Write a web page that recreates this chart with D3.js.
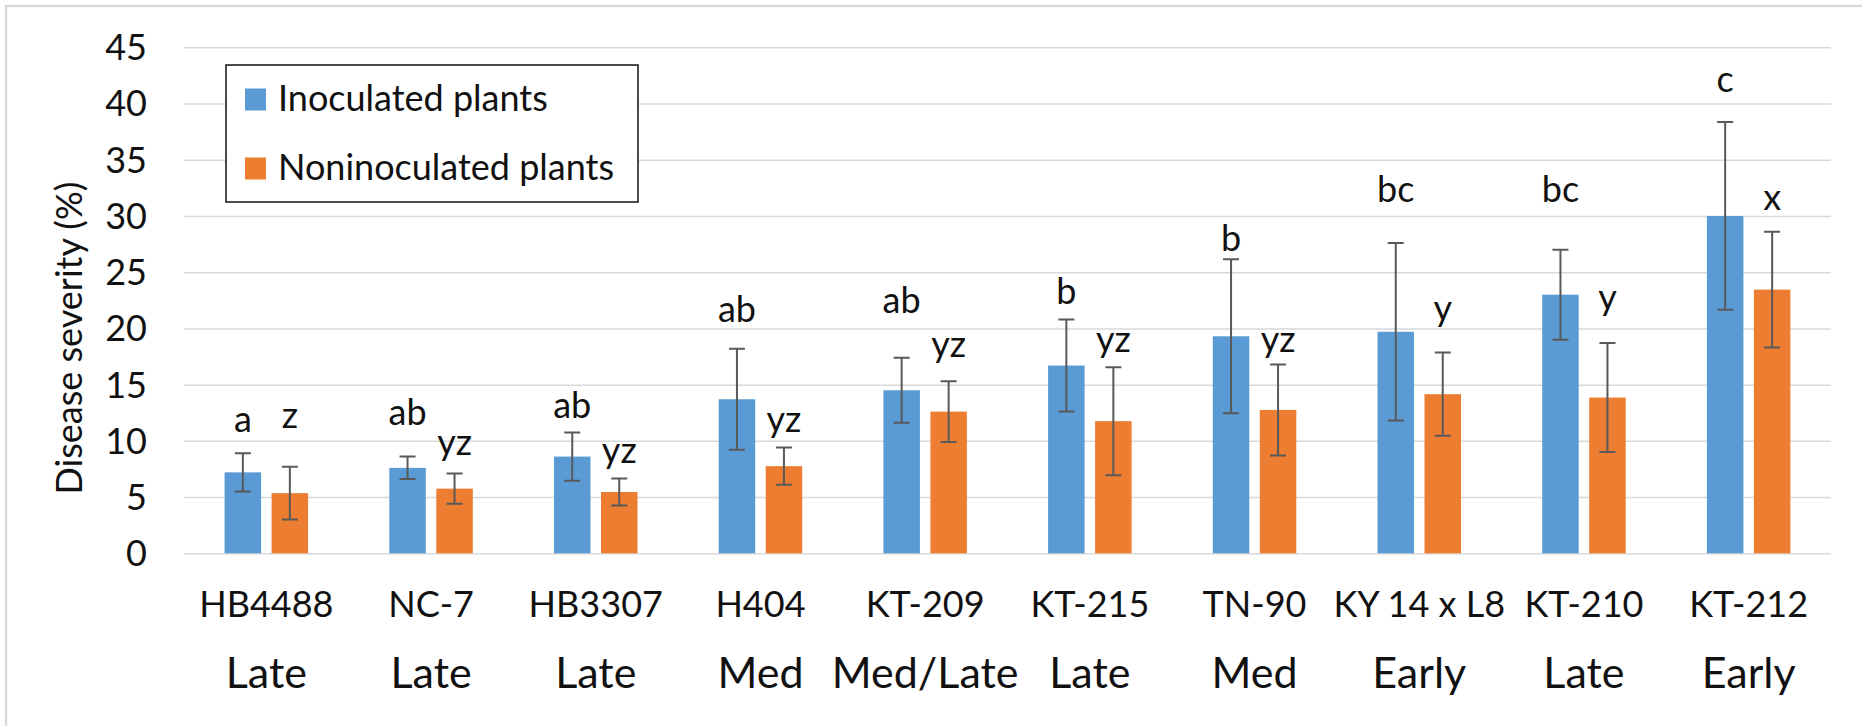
<!DOCTYPE html>
<html>
<head>
<meta charset="utf-8">
<script src="https://cdn.jsdelivr.net/npm/d3@7"></script>
<style>
	body { margin: 0; background: #fff; }
	svg text { font-family: Lato, "Open Sans", sans-serif; fill: #111; }
	.grid line { stroke: #d9d9d9; stroke-width: 1.5; }
	.grid .domain { display: none; }
</style>
</head>
<body>
<script>

const cultivars = ['HB4488', 'NC-7', 'HB3307', 'H404', 'KT-209', 'KT-215', 'TN-90', 'KY 14 x L8', 'KT-210', 'KT-212'];
const maturity = ['Late', 'Late', 'Late', 'Med', 'Med/Late', 'Late', 'Med', 'Early', 'Late', 'Early'];
const seriesNames = ['Inoculated plants', 'Noninoculated plants'];

const inoculated = [7.2, 7.6, 8.6, 13.7, 14.5, 16.7, 19.3, 19.7, 23.0, 30.0];
const inoculatedErr = [1.7, 1.0, 2.15, 4.5, 2.9, 4.1, 6.85, 7.9, 4.0, 8.35];
const noninoculated = [5.35, 5.75, 5.45, 7.75, 12.6, 11.75, 12.75, 14.15, 13.85, 23.45];
const noninoculatedErr = [2.35, 1.35, 1.2, 1.65, 2.7, 4.8, 4.05, 3.7, 4.85, 5.15];

// mean separation letters and the height (in %) they sit at
const inoculatedLetters = ['a', 'ab', 'ab', 'ab', 'ab', 'b', 'b', 'bc', 'bc', 'c'];
const inoculatedLetterAt = [10.8, 11.4, 12.0, 20.6, 21.4, 22.2, 26.9, 31.2, 31.2, 41.0];
const noninoculatedLetters = ['z', 'yz', 'yz', 'yz', 'yz', 'yz', 'yz', 'y', 'y', 'x'];
const noninoculatedLetterAt = [11.1, 8.7, 8.0, 10.8, 17.5, 17.9, 17.9, 20.7, 21.6, 30.5];

const yTicks = [0, 5, 10, 15, 20, 25, 30, 35, 40, 45];
const colors = ['#5b9bd5', '#ed7d31'];

const width = 1862;
const height = 726;
const plot = { left: 184, right: 1831, top: 47.3, bottom: 553.3 };

const svg = d3.select('body').append('svg')
	.attr('width', width)
	.attr('height', height);

// outer frame (only top and left edge are inside the picture)
svg.append('path')
	.attr('d', 'M6 726 V6 H1862')
	.attr('fill', 'none')
	.attr('stroke', '#d9d9d9')
	.attr('stroke-width', 2.5);

const x0 = d3.scaleBand()
	.domain(cultivars)
	.range([plot.left, plot.right]);

const x1 = d3.scaleBand()
	.domain([0, 1])
	.range([-41.75, 41.75])
	.paddingInner(0.2234);

const y = d3.scaleLinear()
	.domain([0, 45])
	.range([plot.bottom, plot.top]);

// gridlines
svg.append('g')
	.attr('class', 'grid')
	.attr('transform', 'translate(' + plot.left + ' 0)')
	.call(d3.axisRight(y).tickValues(yTicks).tickSize(plot.right - plot.left).tickFormat(''));

// tick labels
svg.append('g').selectAll('text')
	.data(yTicks)
	.enter().append('text')
	.attr('x', 147)
	.attr('y', d => y(d))
	.attr('dy', '0.36em')
	.attr('text-anchor', 'end')
	.style('font-size', '36px')
	.text(d => d);

svg.append('text')
	.attr('transform', 'translate(81.7 338) rotate(-90)')
	.attr('text-anchor', 'middle')
	.style('font-size', '36px')
	.text('Disease severity (%)');

const rows = cultivars.map((c, i) => ({
	name: c,
	values: [
		{ s: 0, v: inoculated[i], e: inoculatedErr[i], letter: inoculatedLetters[i], at: inoculatedLetterAt[i] },
		{ s: 1, v: noninoculated[i], e: noninoculatedErr[i], letter: noninoculatedLetters[i], at: noninoculatedLetterAt[i] }
	]
}));

const grp = svg.append('g').selectAll('g')
	.data(rows)
	.enter().append('g')
	.attr('transform', d => 'translate(' + (x0(d.name) + x0.bandwidth() / 2) + ' 0)');

const item = grp.selectAll('g')
	.data(d => d.values)
	.enter().append('g')
	.attr('transform', d => 'translate(' + (x1(d.s) + x1.bandwidth() / 2) + ' 0)');

item.append('rect')
	.attr('x', -x1.bandwidth() / 2)
	.attr('y', d => y(d.v))
	.attr('width', x1.bandwidth())
	.attr('height', d => y(0) - y(d.v))
	.attr('fill', d => colors[d.s]);

// error bars
item.append('path')
	.attr('d', d => {
		const t = y(d.v + d.e), b = y(d.v - d.e);
		return 'M-8 ' + t + 'H8M0 ' + t + 'V' + b + 'M-8 ' + b + 'H8';
	})
	.attr('fill', 'none')
	.attr('stroke', '#595959')
	.attr('stroke-width', 2);

item.append('text')
	.attr('y', d => y(d.at))
	.attr('text-anchor', 'middle')
	.style('font-size', '36px')
	.text(d => d.letter);

// category labels, two rows
grp.append('text')
	.attr('y', 617)
	.attr('text-anchor', 'middle')
	.style('font-size', '36px')
	.text(d => d.name);

grp.append('text')
	.attr('y', 688)
	.attr('text-anchor', 'middle')
	.style('font-size', '43px')
	.text((d, i) => maturity[i]);

// legend
const legend = svg.append('g');

legend.append('rect')
	.attr('x', 226)
	.attr('y', 65)
	.attr('width', 412)
	.attr('height', 137)
	.attr('fill', '#fff')
	.attr('stroke', '#111')
	.attr('stroke-width', 1.5);

const li = legend.selectAll('g')
	.data(seriesNames)
	.enter().append('g')
	.attr('transform', (d, i) => 'translate(245 ' + (88.5 + i * 69) + ')');

li.append('rect')
	.attr('width', 21)
	.attr('height', 22)
	.attr('fill', (d, i) => colors[i]);

li.append('text')
	.attr('x', 33)
	.attr('y', 22)
	.style('font-size', '36px')
	.text(d => d);

</script>
</body>
</html>
